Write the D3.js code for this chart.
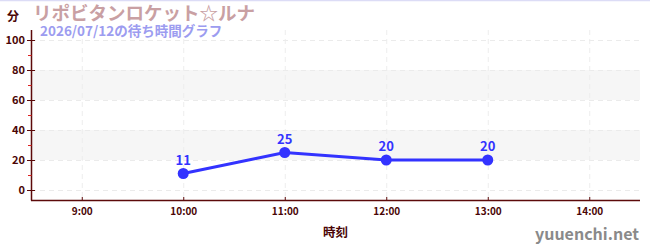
<!DOCTYPE html>
<html>
<head>
<meta charset="utf-8">
<script src="https://cdn.jsdelivr.net/npm/d3@7"></script>
<style>
  body { margin: 0; background: #fff; }
  svg { display: block; font-family: "Noto Sans CJK JP", "Noto Sans", sans-serif; }
</style>
</head>
<body>
<script>
// data
var times = ["10:00", "11:00", "12:00", "13:00"];
var waits = [11, 25, 20, 20];
var hourTicks = ["9:00", "10:00", "11:00", "12:00", "13:00", "14:00"];
var yTicks = [0, 20, 40, 60, 80, 100];
var bands = [[20, 40], [60, 80]];

var width = 650, height = 250;
var plotLeft = 31, plotRight = 640, plotTop = 30, plotBottom = 200;

var parseTime = d3.timeParse("%H:%M");
var data = times.map(function(t, i) { return { time: parseTime(t), wait: waits[i] }; });

var x = d3.scaleTime()
          .domain([parseTime("8:30"), parseTime("14:30")])
          .range([plotLeft, plotRight]);
var y = d3.scaleLinear()
          .domain([-20 / 3, 320 / 3])
          .range([plotBottom, plotTop]);

var svg = d3.select("body").append("svg")
            .attr("width", width)
            .attr("height", height);

// top border
svg.append("line").attr("x1", 0).attr("x2", width).attr("y1", 0.5).attr("y2", 0.5)
   .attr("stroke", "#dcdcf6").attr("stroke-width", 1.5);

// bands
svg.selectAll("rect.band").data(bands).enter().append("rect")
   .attr("class", "band")
   .attr("x", plotLeft).attr("width", plotRight - plotLeft)
   .attr("y", function(d) { return y(d[1]); })
   .attr("height", function(d) { return y(d[0]) - y(d[1]); })
   .attr("fill", "#f6f6f6");

// grid
svg.selectAll("line.hgrid").data(yTicks).enter().append("line")
   .attr("class", "hgrid")
   .attr("x1", plotLeft).attr("x2", plotRight)
   .attr("y1", function(d) { return y(d) + 0.5; })
   .attr("y2", function(d) { return y(d) + 0.5; })
   .attr("stroke", "#ebebeb").attr("stroke-dasharray", "5,4");
svg.selectAll("line.vgrid").data(hourTicks).enter().append("line")
   .attr("class", "vgrid")
   .attr("x1", function(d) { return x(parseTime(d)) + 0.5; })
   .attr("x2", function(d) { return x(parseTime(d)) + 0.5; })
   .attr("y1", plotTop).attr("y2", plotBottom)
   .attr("stroke", "#ededed").attr("stroke-dasharray", "5,4");

// axes
var axisColor = "#5c0a0a";
var yAxis = d3.axisLeft(y).tickValues(yTicks).tickSize(4).tickPadding(3);
var xAxis = d3.axisBottom(x)
              .tickValues(hourTicks.map(parseTime))
              .tickFormat(d3.timeFormat("%-H:%M"))
              .tickSize(0).tickPadding(8);

var yg = svg.append("g").attr("transform", "translate(" + plotLeft + ",0)").call(yAxis);
yg.select(".domain").attr("d", "M0.5," + plotTop + "V" + (plotBottom + 0.5));
yg.selectAll(".tick line").attr("x1", -4).attr("x2", 4).attr("stroke", axisColor);
yg.selectAll(".tick text").attr("x", -6);
yg.selectAll(".domain").attr("stroke", axisColor).attr("stroke-width", 1.5);

// minor ticks
yg.selectAll("line.minor").data([10, 30, 50, 70, 90]).enter().append("line")
  .attr("class", "minor")
  .attr("x1", -3).attr("x2", 0.5)
  .attr("y1", function(d) { return y(d) + 0.5; })
  .attr("y2", function(d) { return y(d) + 0.5; })
  .attr("stroke", "#dd2222");

var xg = svg.append("g").attr("transform", "translate(0," + plotBottom + ")").call(xAxis);
xg.select(".domain").attr("d", "M" + plotLeft + ",0.5H" + plotRight);
xg.selectAll(".domain").attr("stroke", axisColor).attr("stroke-width", 1.5);
svg.selectAll(".vtick").data(hourTicks).enter().append("line")
   .attr("class", "vtick")
   .attr("x1", function(d) { return x(parseTime(d)) + 0.5; })
   .attr("x2", function(d) { return x(parseTime(d)) + 0.5; })
   .attr("y1", plotBottom - 3).attr("y2", plotBottom)
   .attr("stroke", axisColor);

svg.selectAll(".tick text")
   .attr("fill", "#4a0505")
   .attr("font-size", 11)
   .attr("font-weight", "bold")
   .attr("font-family", "\"Noto Sans CJK JP\", sans-serif");
xg.selectAll(".tick text").attr("font-size", 10);

// line + points
var line = d3.line()
             .x(function(d) { return x(d.time); })
             .y(function(d) { return y(d.wait); });
svg.append("path").attr("d", line(data))
   .attr("fill", "none").attr("stroke", "#3333ff").attr("stroke-width", 3);
svg.selectAll("circle.pt").data(data).enter().append("circle")
   .attr("class", "pt")
   .attr("cx", function(d) { return x(d.time); })
   .attr("cy", function(d) { return y(d.wait); })
   .attr("r", 5.5)
   .attr("fill", "#3333ff");
svg.selectAll("text.lbl").data(data).enter().append("text")
   .attr("class", "lbl")
   .attr("x", function(d) { return x(d.time); })
   .attr("y", function(d) { return y(d.wait) - 9; })
   .attr("text-anchor", "middle")
   .attr("fill", "#3333ff")
   .attr("font-size", 13)
   .attr("font-weight", "bold")
   .text(function(d) { return d.wait; });

// titles
svg.append("text").attr("x", 7).attr("y", 21)
   .attr("fill", "#4a0505").attr("font-size", 12).attr("font-weight", "bold").text("分");
svg.append("text").attr("x", 33).attr("y", 20)
   .attr("fill", "#c9a0a3").attr("font-size", 18.5).attr("font-weight", "bold").text("リポビタンロケット☆ルナ");
svg.append("text").attr("x", 40).attr("y", 36)
   .attr("fill", "#9c9cf0").attr("font-size", 13.5).attr("font-weight", "bold").text("2026/07/12の待ち時間グラフ");
svg.append("text").attr("x", (plotLeft + plotRight) / 2).attr("y", 237)
   .attr("text-anchor", "middle")
   .attr("fill", "#4a0505").attr("font-size", 12.5).attr("font-weight", "bold").text("時刻");
svg.append("text").attr("x", 639).attr("y", 240)
   .attr("text-anchor", "end")
   .attr("fill", "#8a8a8a").attr("font-size", 16).attr("font-weight", "bold").text("yuuenchi.net");
</script>
</body>
</html>
